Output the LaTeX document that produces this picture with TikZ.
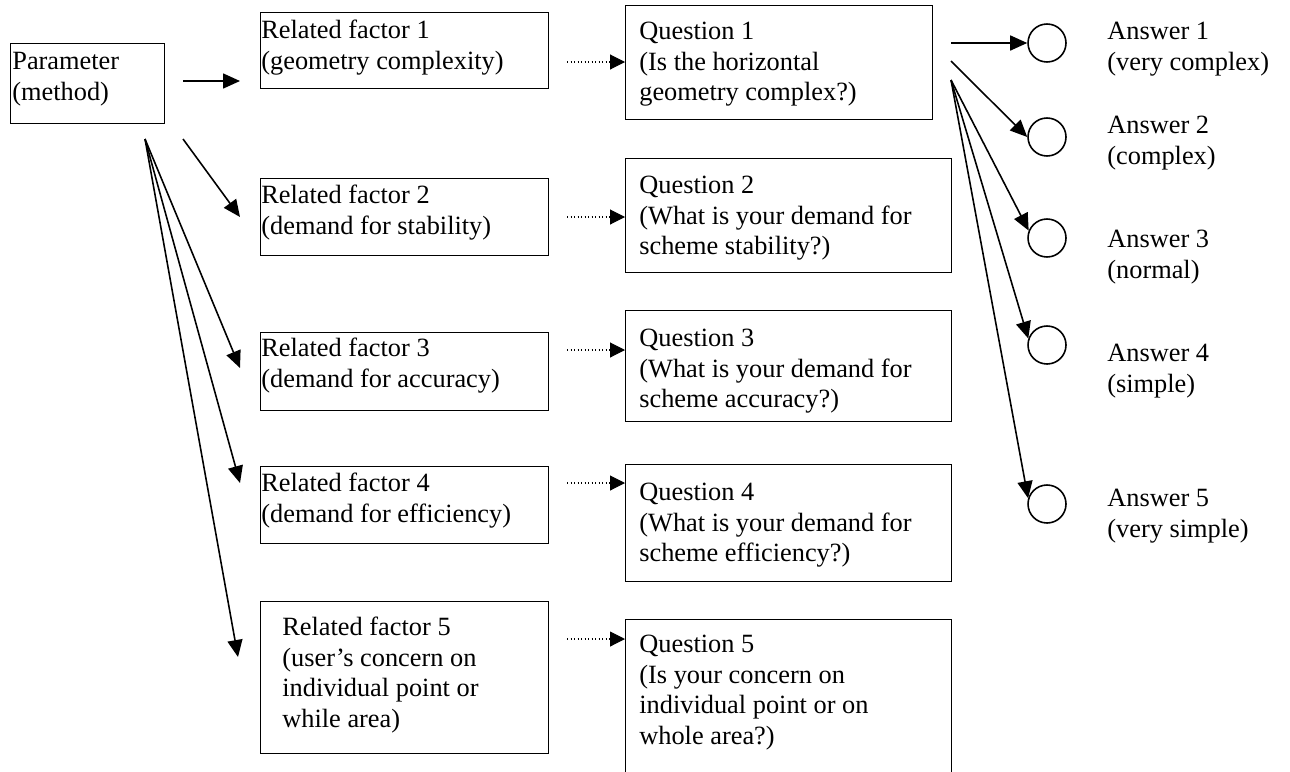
\documentclass[tikz,border=0pt]{standalone}
\usepackage{fontspec}
\setmainfont{Liberation Serif}
\usetikzlibrary{arrows.meta,calc}

\begin{document}
\begin{tikzpicture}[x=0.02cm,y=-0.02cm,every node/.style={font=\fontsize{15}{17.3}\selectfont},
  box/.style={draw,line width=0.8pt,anchor=north west,inner sep=0pt},
  txt/.style={anchor=north west,inner sep=0pt,align=left},
  ans/.style={draw,circle,line width=0.9pt,minimum size=0.76cm,inner sep=0pt},
  arr/.style={-{Triangle[length=0.34cm,width=0.3cm]},line width=0.9pt},
  dotarr/.style={-{Triangle[length=0.3cm,width=0.3cm]},line width=0.6pt,dash pattern=on 0.6pt off 1.4pt}]
\clip (0,0) rectangle (1290,771);
% parameter
\node[box,minimum width=3.08cm,minimum height=1.6cm] (param) at (10,43) {};
\node[txt] (paramtxt) at (12,52) {Parameter\\(method)};
% related factors
\node[box,minimum width=5.76cm,minimum height=1.52cm] (rf1) at (260,12) {};
\node[txt] (rf1txt) at (261,20) {Related factor 1\\(geometry complexity)};
\node[box,minimum width=5.76cm,minimum height=1.54cm] (rf2) at (260,178) {};
\node[txt] (rf2txt) at (261,185) {Related factor 2\\(demand for stability)};
\node[box,minimum width=5.76cm,minimum height=1.56cm] (rf3) at (260,332) {};
\node[txt] (rf3txt) at (261,338) {Related factor 3\\(demand for accuracy)};
\node[box,minimum width=5.76cm,minimum height=1.54cm] (rf4) at (260,466) {};
\node[txt] (rf4txt) at (261,473) {Related factor 4\\(demand for efficiency)};
\node[box,minimum width=5.76cm,minimum height=3.04cm] (rf5) at (260,601) {};
\node[txt] (rf5txt) at (282,617) {Related factor 5\\(user’s concern on\\individual point or\\while area)};
% questions
\node[box,minimum width=6.14cm,minimum height=2.28cm] (q1) at (625,5) {};
\node[txt] (q1txt) at (639,22) {Question 1\\(Is the horizontal\\geometry complex?)};
\node[box,minimum width=6.52cm,minimum height=2.28cm] (q2) at (625,158) {};
\node[txt] (q2txt) at (639,176) {Question 2\\(What is your demand for\\scheme stability?)};
\node[box,minimum width=6.52cm,minimum height=2.22cm] (q3) at (625,310) {};
\node[txt] (q3txt) at (639,329) {Question 3\\(What is your demand for\\scheme accuracy?)};
\node[box,minimum width=6.52cm,minimum height=2.34cm] (q4) at (625,464) {};
\node[txt] (q4txt) at (639,483) {Question 4\\(What is your demand for\\scheme efficiency?)};
\node[box,minimum width=6.52cm,minimum height=3.6cm] (q5) at (625,619) {};
\node[txt] (q5txt) at (639,635) {Question 5\\(Is your concern on\\individual point or on\\whole area?)};
% answers
\node[ans] (a1) at (1047,43) {};
\node[ans] (a2) at (1047,137) {};
\node[ans] (a3) at (1047,238) {};
\node[ans] (a4) at (1047,345) {};
\node[ans] (a5) at (1047,504) {};
\node[txt] (a1txt) at (1107,22) {Answer 1\\(very complex)};
\node[txt] (a2txt) at (1107,116) {Answer 2\\(complex)};
\node[txt] (a3txt) at (1107,230) {Answer 3\\(normal)};
\node[txt] (a4txt) at (1107,344) {Answer 4\\(simple)};
\node[txt] (a5txt) at (1107,489) {Answer 5\\(very simple)};
% arrow ends
\coordinate (ps) at (183,81);
\coordinate (t1) at (240,81);
\coordinate (pr) at (183,139);
\coordinate (pl) at (145,139);
\coordinate (t2) at (240,217);
\coordinate (t3) at (240,368);
\coordinate (t4) at (240,483);
\coordinate (t5) at (238,657);
\coordinate (qa) at (951,43);
\coordinate (qb) at (951,61);
\coordinate (qc) at (951,80);
\draw[arr] (ps) -- (t1);
\foreach \s/\t in {pr/t2,pl/t3,pl/t4,pl/t5}{\draw[arr] (\s) -- (\t);}
\foreach \r/\y in {1/62,2/217,3/350,4/483,5/639}{
  \coordinate (d\r) at (567,\y);
  \draw[dotarr] (d\r) -- (d\r -| q\r.west);}
\draw[arr] (qa) -- (a1.west);
\draw[arr] (qb) -- (a2.west);
\foreach \t/\ang in {a3/158,a4/161,a5/163}{\draw[arr] (qc) -- (\t.\ang);}
\end{tikzpicture}
\end{document}
